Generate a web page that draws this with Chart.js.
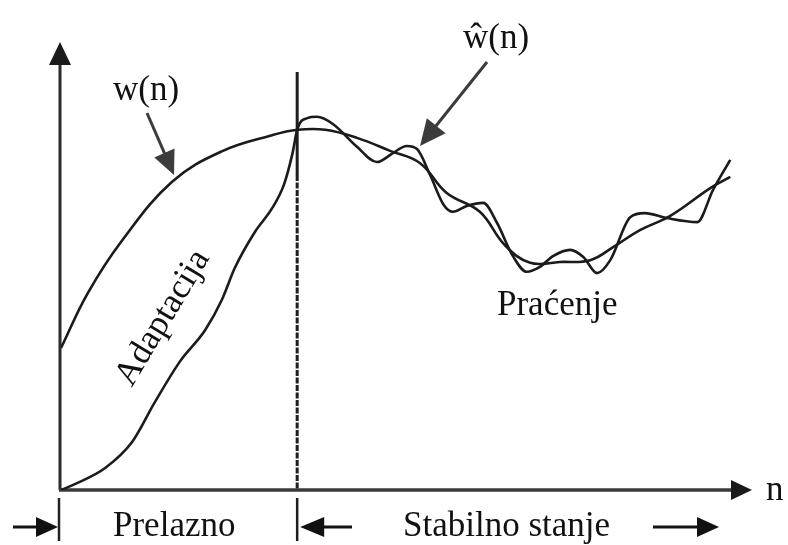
<!DOCTYPE html>
<html>
<head>
<meta charset="utf-8">
<script src="https://cdn.jsdelivr.net/npm/chart.js@4/dist/chart.umd.min.js"></script>
<style>
  html, body { margin: 0; padding: 0; background: #fff; }
  #wrap { width: 788px; height: 545px; }
</style>
</head>
<body>
<div id="wrap"><canvas id="c" width="788" height="545"></canvas></div>
<script>
// True weight w(n): smooth curve
const nTrue = [0, 3.9, 8.8, 16.1, 23.3, 30.6, 34.3, 38.3, 42.9, 47.7, 52.0, 55.9, 60.7, 64.3, 68.0, 72.3, 76.7, 80.3, 83.9, 88.3, 94.1, 97.0];
const wTrue = [31.7, 44.0, 55.6, 68.8, 75.6, 79.2, 80.4, 80.4, 78.6, 75.7, 73.0, 66.3, 62.1, 54.7, 50.7, 50.9, 51.3, 54.5, 58.0, 61.2, 67.4, 69.9];

// Estimated weight ŵ(n): adapts from zero, then tracks w(n) with ripples
const nEst = [0, 2.0, 6.4, 10.3, 13.6, 17.2, 20.9, 23.3, 25.2, 28.1, 30.6, 32.3, 33.5, 34.3, 35.7, 37.1, 39.4, 42.9, 45.8, 48.1, 50.1, 51.6, 53.5, 55.4, 56.8, 58.8, 61.2, 63.2, 65.5, 67.5, 69.4, 71.3, 73.8, 75.7, 77.7, 79.6, 82.5, 84.6, 87.8, 92.2, 94.5, 97.0];
const wEst = [0, 1.3, 4.9, 10.7, 19.6, 28.6, 35.7, 42.4, 49.6, 57.6, 62.9, 68.1, 74.8, 80.8, 83.0, 83.3, 81.7, 76.6, 73.2, 75.2, 76.8, 76.1, 70.3, 63.8, 62.1, 63.4, 64.1, 59.6, 52.2, 48.7, 49.8, 52.2, 53.6, 52.0, 48.4, 51.3, 60.9, 61.8, 60.7, 59.8, 67.0, 73.7];

// Boundary between the transient and steady-state regions
const boundaryN = 34.3;

// Texts
const labelTrue = 'w(n)';
const labelEst = 'ŵ(n)';
const labelAxis = 'n';
const labelAdapt = 'Adaptacija';
const labelTrack = 'Praćenje';
const labelTransient = 'Prelazno';
const labelSteady = 'Stabilno stanje';

const toPts = (xs, ys) => xs.map((v, i) => ({ x: v, y: ys[i] }));

const INK = '#1b1b1b';
const FONT = '35px "Liberation Serif", "Times New Roman", serif';

function arrowHead(ctx, tipX, tipY, fromX, fromY, len, half) {
  const ang = Math.atan2(tipY - fromY, tipX - fromX);
  const bx = tipX - Math.cos(ang) * len, by = tipY - Math.sin(ang) * len;
  const px = -Math.sin(ang) * half, py = Math.cos(ang) * half;
  ctx.beginPath();
  ctx.moveTo(tipX, tipY);
  ctx.lineTo(bx + px, by + py);
  ctx.lineTo(bx - px, by - py);
  ctx.closePath();
  ctx.fill();
}

function arrow(ctx, x1, y1, x2, y2, len, half, width, color) {
  const ang = Math.atan2(y2 - y1, x2 - x1);
  ctx.save();
  ctx.strokeStyle = color; ctx.fillStyle = color; ctx.lineWidth = width;
  ctx.beginPath();
  ctx.moveTo(x1, y1);
  ctx.lineTo(x2 - Math.cos(ang) * len * 0.6, y2 - Math.sin(ang) * len * 0.6);
  ctx.stroke();
  arrowHead(ctx, x2, y2, x1, y1, len, half);
  ctx.restore();
}

const frame = {
  id: 'frame',
  beforeDatasetsDraw(chart) {
    const { ctx, scales: { x, y } } = chart;
    const ox = x.getPixelForValue(0) - 1;
    const oy = y.getPixelForValue(0);
    const bx = x.getPixelForValue(boundaryN) - 0.5;
    ctx.save();
    // boundary line: solid on top, finely broken lower down
    ctx.strokeStyle = '#1e1e1e';
    ctx.lineWidth = 3;
    ctx.beginPath(); ctx.moveTo(bx, 72); ctx.lineTo(bx, 175); ctx.stroke();
    ctx.setLineDash([6, 1.5]);
    ctx.beginPath(); ctx.moveTo(bx, 175); ctx.lineTo(bx, oy); ctx.stroke();
    ctx.setLineDash([]);
    ctx.lineWidth = 2.5;
    ctx.beginPath(); ctx.moveTo(bx, 498); ctx.lineTo(bx, 541); ctx.stroke();
    // axes
    ctx.strokeStyle = '#2a2a2a'; ctx.fillStyle = '#1a1a1a';
    ctx.lineWidth = 3;
    ctx.beginPath(); ctx.moveTo(ox, oy); ctx.lineTo(ox, 60); ctx.stroke();
    arrowHead(ctx, ox, 42, ox, oy, 23, 11);
    ctx.lineWidth = 3.5; ctx.strokeStyle = '#3a3a3a';
    ctx.beginPath(); ctx.moveTo(ox - 1, oy); ctx.lineTo(738, oy); ctx.stroke();
    arrowHead(ctx, 752, oy, ox, oy, 21, 10);
    // left tick below the axis
    ctx.lineWidth = 2.5; ctx.strokeStyle = '#222';
    ctx.beginPath(); ctx.moveTo(ox - 1, 498); ctx.lineTo(ox - 1, 541); ctx.stroke();
    ctx.restore();
  },
  afterDraw(chart) {
    const { ctx, scales: { x, y } } = chart;
    const ox = x.getPixelForValue(0) - 1;
    const bx = x.getPixelForValue(boundaryN) - 0.5;
    ctx.save();
    ctx.fillStyle = '#111';
    ctx.font = FONT;
    ctx.textBaseline = 'alphabetic';
    ctx.textAlign = 'left';
    ctx.fillText(labelTrue, 113, 100);
    ctx.fillText(labelEst, 463, 48);
    ctx.fillText(labelAxis, 766, 500);
    ctx.fillText(labelTrack, 497, 315);
    ctx.fillText(labelTransient, 113, 536);
    ctx.fillText(labelSteady, 403, 536);
    // rotated label along the adaptation curve
    ctx.save();
    ctx.translate(163, 318);
    ctx.rotate(-59 * Math.PI / 180);
    ctx.textAlign = 'center';
    ctx.textBaseline = 'middle';
    ctx.fillText(labelAdapt, 0, 0);
    ctx.restore();
    // pointer arrows to the curves
    arrow(ctx, 147, 113, 174, 175, 24, 11, 3, '#3c3c3c');
    arrow(ctx, 487, 62, 420, 146, 26, 12, 3, '#3c3c3c');
    // region arrows under the axis
    arrow(ctx, 13, 527, ox - 2, 527, 22, 10, 3, '#111');
    arrow(ctx, 352, 527, bx + 3, 527, 24, 10, 3, '#111');
    arrow(ctx, 653, 527, 719, 527, 22, 10, 3, '#111');
    ctx.restore();
  }
};

new Chart(document.getElementById('c'), {
  type: 'line',
  data: {
    datasets: [
      { label: labelTrue, data: toPts(nTrue, wTrue), borderColor: INK, borderWidth: 2.6,
        pointRadius: 0, tension: 0.4, fill: false },
      { label: labelEst, data: toPts(nEst, wEst), borderColor: INK, borderWidth: 2.6,
        pointRadius: 0, cubicInterpolationMode: 'monotone', fill: false }
    ]
  },
  options: {
    responsive: false,
    animation: false,
    events: [],
    layout: { padding: { left: 61, right: 37, top: 42, bottom: 55 } },
    plugins: { legend: { display: false }, tooltip: { enabled: false } },
    scales: {
      x: { type: 'linear', min: 0, max: 100, display: false },
      y: { type: 'linear', min: 0, max: 100, display: false }
    }
  },
  plugins: [frame]
});
</script>
</body>
</html>
